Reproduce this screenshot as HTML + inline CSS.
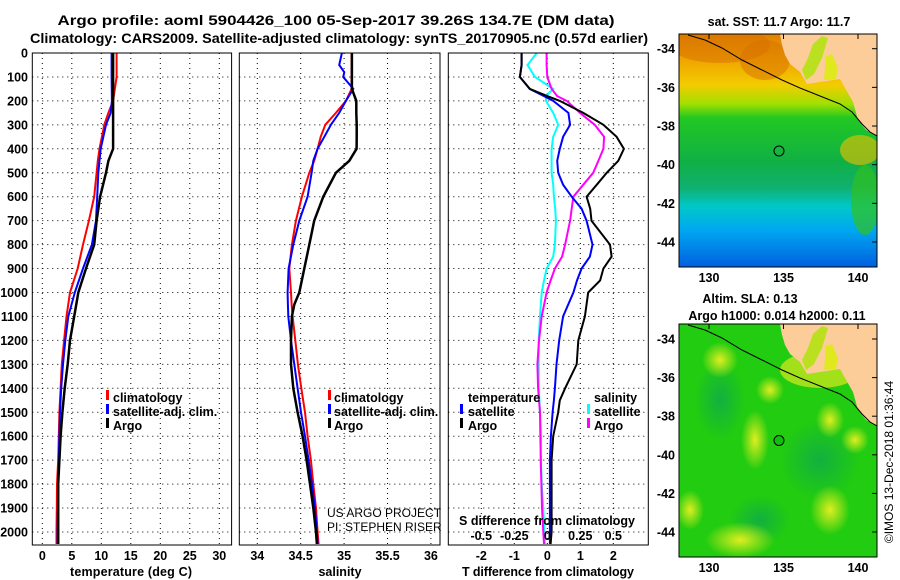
<!DOCTYPE html>
<html><head><meta charset="utf-8"><style>
body{margin:0;background:#fff}
svg{display:block;font-family:"Liberation Sans",sans-serif}
.b{font-weight:bold;font-size:14px}
.t{font-weight:bold;font-size:12.5px}
.g{stroke:#000;stroke-width:1;stroke-dasharray:1 4}
</style></head><body>
<svg id="s" width="900" height="580" viewBox="0 0 900 580">
<defs>
<linearGradient id="sst" x1="0" y1="0" x2="0" y2="1">
<stop offset="0" stop-color="#e08000"/><stop offset="0.12" stop-color="#f0a800"/><stop offset="0.22" stop-color="#f2cc00"/>
<stop offset="0.3" stop-color="#a0e000"/><stop offset="0.36" stop-color="#22c822"/><stop offset="0.55" stop-color="#10b045"/>
<stop offset="0.66" stop-color="#10b070"/><stop offset="0.74" stop-color="#00c8c8"/><stop offset="0.84" stop-color="#00a8f0"/><stop offset="1" stop-color="#0060e0"/>
</linearGradient>
<radialGradient id="blob"><stop offset="0" stop-color="#dfee20"/><stop offset="1" stop-color="#dfee20" stop-opacity="0"/></radialGradient>
<radialGradient id="dblob"><stop offset="0" stop-color="#12b040"/><stop offset="1" stop-color="#12b040" stop-opacity="0"/></radialGradient>
</defs>
<text x="336" y="25" text-anchor="middle" class="b" textLength="557" lengthAdjust="spacingAndGlyphs">Argo profile: aoml 5904426_100 05-Sep-2017 39.26S 134.7E (DM data)</text>
<text x="339" y="43" text-anchor="middle" class="b" textLength="618" lengthAdjust="spacingAndGlyphs">Climatology: CARS2009. Satellite-adjusted climatology: synTS_20170905.nc (0.57d earlier)</text>
<g id="grid"></g>
<g id="lines"></g>
<rect x="32.3" y="53" width="199.3" height="492" fill="none" stroke="#000"/>
<rect x="239.3" y="53" width="200.7" height="492" fill="none" stroke="#000"/>
<rect x="448.3" y="53" width="200" height="492" fill="none" stroke="#000"/>
<text x="131" y="576" text-anchor="middle" class="t" textLength="122">temperature (deg C)</text>
<text x="340" y="576" text-anchor="middle" class="t">salinity</text>
<text x="548" y="576" text-anchor="middle" class="t" textLength="172">T difference from climatology</text>
<text x="547" y="525" text-anchor="middle" class="t" textLength="176">S difference from climatology</text>
<g class="t">
<rect x="106" y="390" width="3" height="10" fill="#f00"/><text x="113" y="402">climatology</text>
<rect x="106" y="404" width="3" height="10" fill="#00f"/><text x="113" y="416">satellite-adj. clim.</text>
<rect x="106" y="418" width="3" height="10" fill="#000"/><text x="113" y="430">Argo</text>
</g>
<g class="t">
<rect x="328" y="390" width="3" height="10" fill="#f00"/><text x="334" y="402">climatology</text>
<rect x="328" y="404" width="3" height="10" fill="#00f"/><text x="334" y="416">satellite-adj. clim.</text>
<rect x="328" y="418" width="3" height="10" fill="#000"/><text x="334" y="430">Argo</text>
</g>
<g class="t">
<text x="468" y="402">temperature</text>
<rect x="460" y="404" width="3" height="10" fill="#00f"/><text x="468" y="416">satellite</text>
<rect x="460" y="418" width="3" height="10" fill="#000"/><text x="468" y="430">Argo</text>
<text x="594" y="402">salinity</text>
<rect x="587" y="404" width="3" height="10" fill="#0ff"/><text x="594" y="416">satellite</text>
<rect x="587" y="418" width="3" height="10" fill="#f0f"/><text x="594" y="430">Argo</text>
</g>
<text x="327" y="517" font-size="12">US ARGO PROJECT</text>
<text x="327" y="531" font-size="12">PI: STEPHEN RISER</text>

<!-- SST map -->
<g>
<text x="779" y="26" text-anchor="middle" class="t">sat. SST: 11.7 Argo: 11.7</text>
<svg x="679" y="34" width="198" height="233" viewBox="679 34 198 233" overflow="hidden">
<rect x="679" y="34" width="198" height="233" fill="url(#sst)"/>
<ellipse cx="720" cy="45" rx="50" ry="18" fill="#d87000" opacity="0.5"/>
<ellipse cx="765" cy="60" rx="25" ry="20" fill="#d87000" opacity="0.5"/>
<ellipse cx="865" cy="200" rx="14" ry="35" fill="#30c020" opacity="0.7"/>
<ellipse cx="860" cy="150" rx="20" ry="15" fill="#f0c000" opacity="0.6"/>
<polygon points="780,34 877,34 877,136 866,130 858,120 853,102 845,88 840,79 820,82 807,84 800,72 790,64 785,55 782,45" fill="#fccc99"/>
<polygon points="813,44 822,36 828,38 822,58 814,74 806,80 802,70 808,58" fill="#bbe020"/>
<polygon points="826,56 832,54 838,68 836,79 824,80" fill="#e0e820"/>
<polyline points="688,35 705,40 722,48 742,60 762,70 782,80 800,88 820,96 840,104 852,112 862,124 870,132 877,136" fill="none" stroke="#000" stroke-width="1"/>
<circle cx="779" cy="151" r="5" fill="none" stroke="#000"/>
</svg>
<rect x="679" y="34" width="198" height="233" fill="none" stroke="#000"/>
</g>
<!-- SLA map -->
<g>
<text x="750" y="303" text-anchor="middle" class="t">Altim. SLA: 0.13</text>
<text x="777" y="320" text-anchor="middle" class="t">Argo h1000: 0.014 h2000: 0.11</text>
<svg x="679" y="324" width="198" height="233" viewBox="679 324 198 233" overflow="hidden">
<rect x="679" y="324" width="198" height="233" fill="#22cc10"/>
<ellipse cx="720" cy="400" rx="25" ry="40" fill="url(#dblob)"/>
<ellipse cx="820" cy="460" rx="40" ry="40" fill="url(#dblob)"/>
<ellipse cx="760" cy="520" rx="30" ry="25" fill="url(#dblob)"/>
<ellipse cx="740" cy="540" rx="35" ry="18" fill="url(#blob)"/>
<ellipse cx="755" cy="440" rx="14" ry="30" fill="url(#blob)"/>
<ellipse cx="770" cy="390" rx="14" ry="14" fill="url(#blob)"/>
<ellipse cx="830" cy="420" rx="14" ry="18" fill="url(#blob)"/>
<ellipse cx="855" cy="440" rx="14" ry="14" fill="url(#blob)"/>
<ellipse cx="720" cy="360" rx="18" ry="18" fill="url(#blob)"/>
<ellipse cx="830" cy="510" rx="20" ry="25" fill="url(#blob)"/>
<ellipse cx="690" cy="510" rx="14" ry="20" fill="url(#blob)"/>
<ellipse cx="820" cy="370" rx="40" ry="18" fill="#d8e820" opacity="0.7"/>
<polygon points="780,324 877,324 877,426 866,420 858,410 853,392 845,378 840,369 820,372 807,374 800,362 790,354 785,345 782,335" fill="#fccc99"/>
<polygon points="813,334 822,326 828,328 822,348 814,364 806,370 802,360 808,348" fill="#bbe020"/>
<polygon points="826,346 832,344 838,358 836,369 824,370" fill="#e0e820"/>
<polyline points="688,325 705,330 722,338 742,350 762,360 782,370 800,378 820,386 840,394 852,402 862,414 870,422 877,426" fill="none" stroke="#000" stroke-width="1"/>
<circle cx="779" cy="440.5" r="5" fill="#10c010" stroke="#000"/>
</svg>
<rect x="679" y="324" width="198" height="233" fill="none" stroke="#000"/>
</g>
<text transform="translate(893,462) rotate(-90)" text-anchor="middle" font-size="12">©IMOS 13-Dec-2018 01:36:44</text>
<g id="maxes" class="t"></g>
</svg>
<script>
var depthLabels = [0,100,200,300,400,500,600,700,800,900,1000,1100,1200,1300,1400,1500,1600,1700,1800,1900,2000];
var tempTicks = [0,5,10,15,20,25,30];
var salTicks = [34,34.5,35,35.5,36];
var tDiffTicks = [-2,-1,0,1,2];
var sDiffTicks = [-0.5,-0.25,0,0.25,0.5];
var sDiffLabels = ["-0.5","-0.25","0","0.25","0.5"];
var depthT = [0,100,200,250,300,400,450,500,600,700,800,900,1000,1100,1200,1300,1400,1500,1600,1700,1800,1900,2000,2050];
var tempClim = [12.6,12.6,12.0,11.2,10.5,9.7,9.4,9.2,8.8,7.9,6.9,6.0,4.7,4.1,3.7,3.3,3.1,2.9,2.8,2.7,2.5,2.45,2.4,2.4];
var tempSat = [11.75,11.75,11.8,11.6,10.8,9.9,9.7,9.5,9.3,9.1,8.4,6.9,5.5,4.4,3.9,3.5,3.2,3.0,2.9,2.8,2.7,2.65,2.6,2.6];
var tempArgo = [12.0,12.0,12.0,12.0,12.0,12.0,11.2,10.8,9.8,9.2,8.8,7.4,6.1,5.4,4.7,4.3,3.8,3.4,3.1,2.9,2.7,2.7,2.7,2.7];
var depthS = [0,50,80,100,150,200,250,300,350,400,450,500,600,700,800,900,1000,1050,1100,1200,1300,1400,1500,1600,1700,1800,1900,2000,2050];
var salClim = [35.086,35.086,35.086,35.086,35.086,35.021,34.906,34.783,34.73,34.695,34.656,34.599,34.514,34.445,34.399,34.369,34.388,34.395,34.407,34.438,34.468,34.507,34.549,34.58,34.618,34.645,34.676,34.695,34.706];
var salSat = [34.975,34.944,35.002,34.99,35.106,35.021,34.944,34.848,34.772,34.695,34.645,34.626,34.58,34.484,34.415,34.361,34.349,34.352,34.357,34.388,34.426,34.464,34.503,34.549,34.591,34.63,34.664,34.687,34.695];
var salArgo = [35.09,35.09,35.09,35.09,35.09,35.14,35.14,35.145,35.145,35.144,35.06,34.906,34.76,34.656,34.599,34.541,34.484,34.426,34.399,34.388,34.388,34.415,34.464,34.522,34.568,34.607,34.645,34.676,34.687];
var depthD = [0,50,100,150,180,200,250,300,350,400,450,500,550,600,650,700,800,850,900,950,1000,1100,1200,1300,1400,1450,1500,1600,1700,1800,1900,2000,2050];
var dTSat = [-0.78,-0.78,-0.83,-0.53,-0.1,0.18,0.64,0.69,0.48,0.38,0.30,0.33,0.48,0.74,1.04,1.19,1.37,1.29,1.04,0.9,0.79,0.48,0.36,0.28,0.23,0.2,0.16,0.11,0.08,0.08,0.08,0.08,0.08];
var dTArgo = [-0.78,-0.78,-0.83,-0.53,0,0.38,1.09,1.70,2.10,2.32,2.15,1.80,1.50,1.19,1.30,1.34,1.90,1.95,1.70,1.60,1.24,1.14,0.94,0.89,0.54,0.38,0.33,0.18,0.13,0.13,0.13,0.13,0.10];
var dSSat = [-0.08,-0.15,-0.0925,0.045,-0.01,-0.01,0.045,0.0825,0.045,0.0325,0.0325,0.0325,0.045,0.05,0.06,0.065,0.0575,0.045,-0.005,-0.025,-0.0425,-0.055,-0.065,-0.065,-0.065,-0.06,-0.055,-0.055,-0.0475,-0.0425,-0.03,-0.0225,-0.0175];
var dSArgo = [-0.005,-0.005,0,0.0325,0.075,0.1475,0.2475,0.36,0.43,0.425,0.3875,0.3475,0.2725,0.1975,0.185,0.1725,0.135,0.1125,0.0575,0.025,-0.005,-0.0425,-0.0625,-0.075,-0.07,-0.0625,-0.055,-0.05,-0.05,-0.045,-0.04,-0.03,-0.025];
var latTicks = [-34,-36,-38,-40,-42,-44];
var lonTicks = [130,135,140];

var NS = "http://www.w3.org/2000/svg";
function yD(d){return 53 + d*0.2395;}
function xT(t){return 42.3 + t*5.9;}
function xS(s){return 257.3 + (s-34)*86.8;}
function xDT(v){return 547.3 + v*33;}
function xDS(s){return 547.3 + s*132;}
function mk(tag, attrs, parent){var e=document.createElementNS(NS,tag);for(var k in attrs)e.setAttribute(k,attrs[k]);parent.appendChild(e);return e;}
var grid=document.getElementById('grid'), lines=document.getElementById('lines'), ax=document.getElementById('maxes');
var panels=[[32.3,231.6],[239.3,440],[448.3,648.3]];
depthLabels.forEach(function(d){
  panels.forEach(function(p){
    var l=mk('line',{x1:p[0],x2:p[1],y1:yD(d),y2:yD(d),class:'g'},grid);
    
    
  });
  var t=mk('text',{x:28,y:yD(d)+4.5,'text-anchor':'end',class:'t'},ax);
  
  
  t.textContent=d;
});
function vgrid(vals,fx,labels,ly){
  vals.forEach(function(v,i){
    var l=mk('line',{x1:fx(v),x2:fx(v),y1:53,y2:545,class:'g'},grid);
    
    
    var t=mk('text',{x:fx(v),y:ly,'text-anchor':'middle',class:'t'},ax);
    
    
    t.textContent=labels?labels[i]:v;
  });
}
vgrid(tempTicks,xT,null,560);
vgrid(salTicks,xS,null,560);
vgrid(tDiffTicks,xDT,null,560);
sDiffTicks.forEach(function(v,i){
  var t=mk('text',{x:xDS(v),y:540,'text-anchor':'middle',class:'t'},ax);
  
  
  t.textContent=sDiffLabels[i];
});
function series(depths,vals,fx,color,w,name){
  var pts=depths.map(function(d,i){return fx(vals[i]).toFixed(1)+','+yD(d).toFixed(1);}).join(' ');
  var p=mk('polyline',{points:pts,fill:'none',stroke:color,'stroke-width':w},lines);
  
  
}
series(depthT,tempClim,xT,'#f00',2,'temp-climatology-line');
series(depthT,tempSat,xT,'#00f',2,'temp-satellite-line');
series(depthT,tempArgo,xT,'#000',2.5,'temp-argo-line');
series(depthS,salClim,xS,'#f00',2,'sal-climatology-line');
series(depthS,salSat,xS,'#00f',2,'sal-satellite-line');
series(depthS,salArgo,xS,'#000',2.5,'sal-argo-line');
series(depthD,dSSat,xDS,'#0ff',2,'sdiff-satellite-line');
series(depthD,dSArgo,xDS,'#f0f',2,'sdiff-argo-line');
series(depthD,dTSat,xDT,'#00f',2,'tdiff-satellite-line');
series(depthD,dTArgo,xDT,'#000',2,'tdiff-argo-line');
function mapAxes(top,bot,lat34,lat44){
  latTicks.forEach(function(la){
    var y=lat34+(-34-la)/10*(lat44-lat34);
    var t=mk('text',{x:675,y:y+4.5,'text-anchor':'end',class:'t'},ax);
    
    
    t.textContent=la;
    mk('line',{x1:872,x2:877,y1:y,y2:y,stroke:'#000'},ax);
  });
  lonTicks.forEach(function(lo){
    var x=709+(lo-130)*14.9;
    var t=mk('text',{x:x,y:bot+15,'text-anchor':'middle',class:'t'},ax);
    
    
    t.textContent=lo;
    mk('line',{x1:x,x2:x,y1:top,y2:top+5,stroke:'#000'},ax);
  });
}
mapAxes(34,267,48.7,242);
mapAxes(324,557,339,532);
</script>
</body></html>
